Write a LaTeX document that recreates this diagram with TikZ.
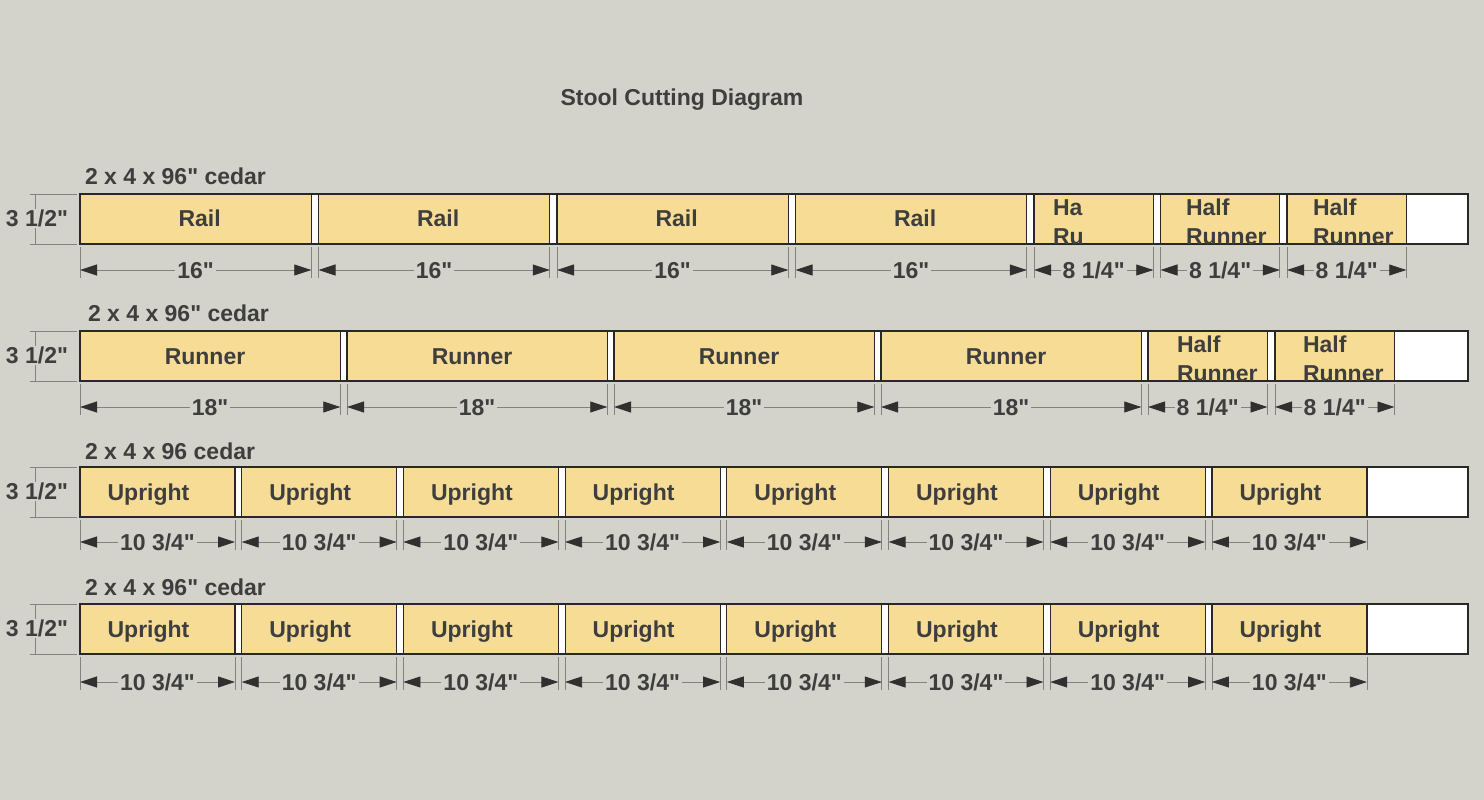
\documentclass[tikz,border=0pt]{standalone}
\usepackage{fontspec}
\newfontfamily\lsans{Liberation Sans}
\usetikzlibrary{arrows.meta}
\definecolor{bgc}{RGB}{211,211,203}
\definecolor{wood}{RGB}{247,220,150}
\definecolor{txt}{RGB}{62,62,62}
\definecolor{edge}{RGB}{40,40,40}
\definecolor{extc}{RGB}{130,130,130}
\definecolor{tipc}{RGB}{48,48,48}
\tikzset{
  lbl/.style={font=\lsans\bfseries\fontsize{23}{26}\selectfont, text=txt, inner sep=0pt, outer sep=0pt},
  dimtxt/.style={font=\lsans\bfseries\fontsize{23}{26}\selectfont, text=txt, fill=bgc, inner xsep=2pt, inner ysep=1pt},
  boardbox/.style={draw=edge, line width=1.2pt, fill=white, outer sep=0pt, inner sep=0pt, minimum height=50pt, anchor=north west},
  piecebox/.style={draw=edge, line width=1.2pt, fill=wood, outer sep=0pt, inner sep=0pt, minimum height=50pt, anchor=north west},
  ext/.style={draw=extc, line width=0.7pt},
  dimline/.style={draw=extc, line width=0.8pt, {Triangle[length=17pt,width=11pt,color=tipc]}-{Triangle[length=17pt,width=11pt,color=tipc]}},
}
\newcommand\cutpiece[6]{%
  \node[piecebox, minimum width=#3pt] (#1) at (#2,#4) {};
  \draw[ext] (#2,{#4+53}) -- (#2,{#5+8});
  \draw[ext] ({#2+#3},{#4+53}) -- ({#2+#3},{#5+8});
  \coordinate (#1-l) at (#2,#5);
  \coordinate (#1-r) at ({#2+#3},#5);
  \draw[dimline] (#1-l) -- (#1-r) node[dimtxt, midway, anchor=base, yshift=-8pt] (#1-d) {#6};
}
\newcommand\heightdim[2]{%
  \coordinate (#1-a) at (30,#2);
  \coordinate (#1-b) at (77,#2);
  \coordinate (#1-c) at (30,{#2+50});
  \coordinate (#1-d) at (77,{#2+50});
  \coordinate (#1-e) at (35,#2);
  \coordinate (#1-f) at (35,{#2+50});
  \draw[ext] (#1-a) -- (#1-b);
  \draw[ext] (#1-c) -- (#1-d);
  \draw[ext] (#1-e) -- (#1-f);
  \node[dimtxt, inner xsep=0pt, anchor=base] (#1-t) at (37,{#2+32.5}) {3 1/2"};
}
\begin{document}
\begin{tikzpicture}[x=1pt,y=-1pt]
\fill[bgc] (0,0) rectangle (1484,800);
\useasboundingbox (0,0) rectangle (1484,800);

\node[lbl, anchor=base] (title) at (682,106) {Stool Cutting Diagram};

% ---------- Board 1 ----------
\node[lbl, anchor=base west] (b1name) at (85,184.5) {2 x 4 x 96" cedar};
\node[boardbox, minimum width=1388pt] (b1) at (80,194) {};
\heightdim{h1}{194}
\foreach \i in {1,...,4}{
  \pgfmathsetmacro\xs{80+(\i-1)*238.5}
  \cutpiece{b1r\i}{\xs}{231.3}{194}{270}{16"}
  \node[lbl, anchor=base] (b1r\i-t) at ({\xs+115.6+4},226.5) {Rail};
}
\foreach \i in {1,...,3}{
  \pgfmathsetmacro\xs{1034+(\i-1)*126.5}
  \cutpiece{b1h\i}{\xs}{119.3}{194}{270}{8 1/4"}
}
\begin{scope}
  \clip (b1h1.south west) rectangle (b1h1.north east);
  \node[lbl, anchor=base west] (b1h1-a) at (1053,215.5) {Ha};
  \node[lbl, anchor=base west] (b1h1-b) at (1053,244) {Ru};
\end{scope}
\begin{scope}
  \clip (b1h2.south west) rectangle (b1h2.north east);
  \node[lbl, anchor=base west] (b1h2-a) at (1186,215.5) {Half};
  \node[lbl, anchor=base west] (b1h2-b) at (1186,244) {Runner};
\end{scope}
\begin{scope}
  \clip (b1h3.south west) rectangle (b1h3.north east);
  \node[lbl, anchor=base west] (b1h3-a) at (1313,215.5) {Half};
  \node[lbl, anchor=base west] (b1h3-b) at (1313,244) {Runner};
\end{scope}

% ---------- Board 2 ----------
\node[lbl, anchor=base west] (b2name) at (88,321.5) {2 x 4 x 96" cedar};
\node[boardbox, minimum width=1388pt] (b2) at (80,331) {};
\heightdim{h2}{331}
\foreach \i in {1,...,4}{
  \pgfmathsetmacro\xs{80+(\i-1)*267}
  \cutpiece{b2r\i}{\xs}{260.3}{331}{407}{18"}
  \node[lbl, anchor=base] (b2r\i-t) at ({\xs+130-5},364) {Runner};
}
\foreach \i in {1,2}{
  \pgfmathsetmacro\xs{1148+(\i-1)*127}
  \cutpiece{b2h\i}{\xs}{119.5}{331}{407}{8 1/4"}
}
\begin{scope}
  \clip (b2h1.south west) rectangle (b2h1.north east);
  \node[lbl, anchor=base west] (b2h1-a) at (1177,352.5) {Half};
  \node[lbl, anchor=base west] (b2h1-b) at (1177,381) {Runner};
\end{scope}
\begin{scope}
  \clip (b2h2.south west) rectangle (b2h2.north east);
  \node[lbl, anchor=base west] (b2h2-a) at (1303,352.5) {Half};
  \node[lbl, anchor=base west] (b2h2-b) at (1303,381) {Runner};
\end{scope}

% ---------- Board 3 ----------
\node[lbl, anchor=base west] (b3name) at (85,459.5) {2 x 4 x 96 cedar};
\node[boardbox, minimum width=1388pt] (b3) at (80,467) {};
\heightdim{h3}{467}
\foreach \i in {1,...,8}{
  \pgfmathsetmacro\xs{80+(\i-1)*161.7}
  \cutpiece{b3u\i}{\xs}{155}{467}{542}{10 3/4"}
  \node[lbl, anchor=base] (b3u\i-t) at ({\xs+77.5-9},500) {Upright};
}

% ---------- Board 4 ----------
\node[lbl, anchor=base west] (b4name) at (85,595.5) {2 x 4 x 96" cedar};
\node[boardbox, minimum width=1388pt] (b4) at (80,604) {};
\heightdim{h4}{604}
\foreach \i in {1,...,8}{
  \pgfmathsetmacro\xs{80+(\i-1)*161.7}
  \cutpiece{b4u\i}{\xs}{155}{604}{682}{10 3/4"}
  \node[lbl, anchor=base] (b4u\i-t) at ({\xs+77.5-9},637) {Upright};
}
\end{tikzpicture}
\end{document}
